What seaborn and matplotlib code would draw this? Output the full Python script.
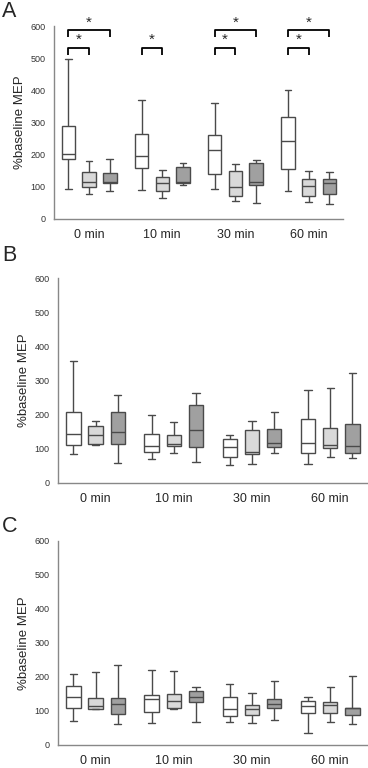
import numpy as np
import pandas as pd
import matplotlib
matplotlib.use("Agg")
import matplotlib.pyplot as plt
import seaborn as sns

times = ["0 min", "10 min", "30 min", "60 min"]
groups = ["g1", "g2", "g3"]
box_colors = ["#ffffff", "#d9d9d9", "#a0a0a0"]

# five-number summaries per box: [min, q1, median, q3, max], order time x group
panel_a = [
    [93, 187, 202, 288, 496], [77, 101, 116, 147, 179], [87, 111, 116, 144, 186],
    [89, 157, 197, 264, 369], [64, 86, 113, 131, 153], [106, 113, 116, 163, 175],
    [92, 140, 214, 262, 361], [56, 71, 98, 148, 172], [51, 107, 116, 175, 182],
    [87, 156, 242, 316, 402], [52, 72, 104, 125, 150], [46, 77, 111, 125, 147],
]
panel_b = [
    [85, 112, 144, 208, 356], [110, 115, 141, 167, 181], [59, 113, 148, 207, 258],
    [69, 92, 109, 143, 199], [88, 107, 115, 140, 180], [61, 106, 154, 229, 264],
    [53, 75, 104, 129, 140], [55, 84, 91, 154, 181], [88, 104, 118, 159, 207],
    [56, 89, 117, 186, 272], [77, 102, 112, 160, 279], [74, 89, 107, 173, 321],
]
panel_c = [
    [70, 108, 142, 174, 209], [105, 107, 116, 139, 215], [61, 91, 120, 139, 234],
    [65, 98, 135, 147, 222], [106, 108, 130, 149, 217], [67, 126, 142, 159, 171],
    [68, 86, 107, 141, 178], [65, 88, 106, 119, 152], [75, 110, 120, 134, 189],
    [34, 94, 114, 129, 142], [68, 93, 119, 127, 172], [61, 89, 108, 110, 202],
]

# significance brackets for panel A: (time index, group from, group to, bracket level)
sig_a = [
    (0, 0, 1, 533), (0, 0, 2, 587),
    (1, 0, 1, 533),
    (2, 0, 1, 533), (2, 0, 2, 587),
    (3, 0, 1, 533), (3, 0, 2, 587),
]

WIDTH = 0.85


def to_frame(stats):
    rows = []
    for i, five in enumerate(stats):
        t = times[i // 3]
        g = groups[i % 3]
        for v in five:
            rows.append({"time": t, "group": g, "value": v})
    return pd.DataFrame(rows)


def draw_panel(ax, stats):
    df = to_frame(stats)
    sns.boxplot(data=df, x="time", y="value", hue="group", order=times,
                hue_order=groups, palette=box_colors, whis=(0, 100),
                width=WIDTH, gap=0.35, linewidth=1.0, linecolor="#4a4a4a",
                showfliers=False, legend=False, ax=ax,
                medianprops=dict(color="#4a4a4a", linewidth=1.0))
    ax.set_ylim(0, 600)
    ax.set_yticks(range(0, 601, 100))
    ax.set_xlim(-0.48, 3.47)
    ax.set_xlabel("")
    ax.set_ylabel("%baseline MEP", fontsize=9.5, labelpad=3)
    ax.tick_params(axis="y", length=0, labelsize=6.5, labelcolor="#333333", pad=6)
    ax.tick_params(axis="x", length=0, labelsize=9, pad=7)
    for s in ["top", "right"]:
        ax.spines[s].set_visible(False)
    for s in ["left", "bottom"]:
        ax.spines[s].set_color("#888888")
        ax.spines[s].set_linewidth(1.0)


sns.set_theme(style="white")
plt.rcParams["font.family"] = ["Liberation Sans", "DejaVu Sans"]

fig = plt.figure(figsize=(3.68, 7.68), dpi=100)
W, H = 368, 768
ax_a = fig.add_axes([54 / W, 1 - 219 / H, (343 - 54) / W, (219 - 26) / H])
ax_b = fig.add_axes([58 / W, 1 - 483 / H, (367 - 58) / W, (483 - 278) / H])
ax_c = fig.add_axes([58 / W, 1 - 745 / H, (367 - 58) / W, (745 - 541) / H])

draw_panel(ax_a, panel_a)
draw_panel(ax_b, panel_b)
draw_panel(ax_c, panel_c)

for letter, top in [("A", 1), ("B", 245), ("C", 516)]:
    fig.text(2 / W, 1 - top / H, letter, fontsize=15.5, ha="left", va="top")

step = WIDTH / 3
for t, g0, g1, level in sig_a:
    x0 = t + (g0 - 1) * step
    x1 = t + (g1 - 1) * step
    ax_a.plot([x0, x0, x1, x1], [level - 22, level, level, level - 22],
              color="black", lw=1.3, clip_on=False, solid_capstyle="butt")
    ax_a.text((x0 + x1) / 2, level + 2, "*", ha="center", va="bottom",
              fontsize=11, clip_on=False)

fig.savefig("out.png", dpi=100)
